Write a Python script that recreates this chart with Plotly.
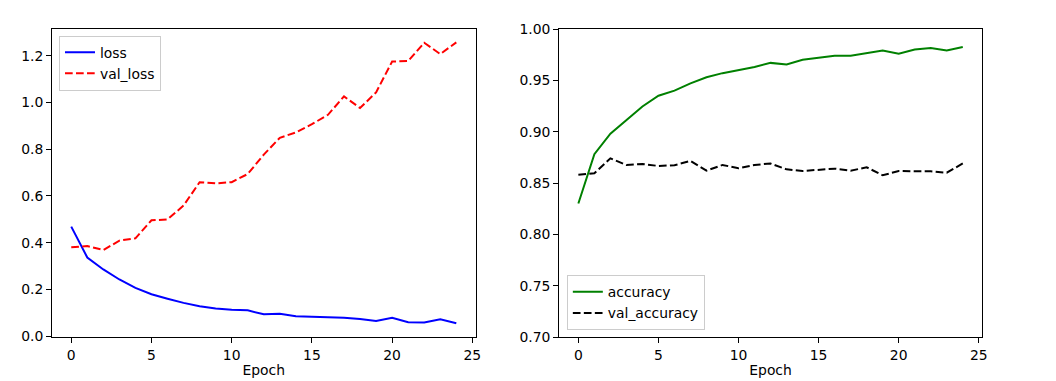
import plotly.graph_objects as go

epochs = list(range(25))
loss = [0.469, 0.337, 0.286, 0.243, 0.207, 0.180, 0.161, 0.143, 0.129, 0.119,
        0.114, 0.111, 0.094, 0.097, 0.086, 0.084, 0.079, 0.079, 0.074, 0.066,
        0.079, 0.060, 0.059, 0.073, 0.056]
val_loss = [0.381, 0.386, 0.369, 0.409, 0.419, 0.496, 0.500, 0.559, 0.659, 0.654,
            0.659, 0.694, 0.777, 0.849, 0.872, 0.907, 0.947, 1.026, 0.976, 1.043,
            1.175, 1.177, 1.255, 1.207, 1.257]
accuracy = [0.830, 0.878, 0.898, 0.9115, 0.9245, 0.935, 0.940, 0.947, 0.953, 0.957,
            0.960, 0.963, 0.967, 0.9655, 0.970, 0.972, 0.974, 0.974, 0.9766, 0.979,
            0.976, 0.980, 0.9815, 0.979, 0.9824]
val_accuracy = [0.858, 0.8594, 0.874, 0.8676, 0.8685, 0.8666, 0.8673, 0.8715, 0.862, 0.8676,
                0.8643, 0.8676, 0.869, 0.8633, 0.8617, 0.863, 0.864, 0.862, 0.8653, 0.8575,
                0.8617, 0.8614, 0.8614, 0.860, 0.869]
x_ticks = [0, 5, 10, 15, 20, 25]
loss_ticks = [0.0, 0.2, 0.4, 0.6, 0.8, 1.0, 1.2]
acc_ticks = [0.70, 0.75, 0.80, 0.85, 0.90, 0.95, 1.00]

FONT = "DejaVu Sans"
FS = 13.9
LW = 2.0
DASH = "7.7px,3.3px"

fig = go.Figure()
fig.add_trace(go.Scatter(x=epochs, y=loss, mode="lines", name="loss",
                         line=dict(color="blue", width=LW), xaxis="x", yaxis="y", legend="legend"))
fig.add_trace(go.Scatter(x=epochs, y=val_loss, mode="lines", name="val_loss",
                         line=dict(color="red", width=LW, dash=DASH), xaxis="x", yaxis="y", legend="legend"))
fig.add_trace(go.Scatter(x=epochs, y=accuracy, mode="lines", name="accuracy",
                         line=dict(color="green", width=LW), xaxis="x2", yaxis="y2", legend="legend2"))
fig.add_trace(go.Scatter(x=epochs, y=val_accuracy, mode="lines", name="val_accuracy",
                         line=dict(color="black", width=LW, dash=DASH), xaxis="x2", yaxis="y2", legend="legend2"))

axis_common = dict(showline=True, linecolor="black", linewidth=1.1, mirror=True,
                   ticks="outside", ticklen=4.9, tickcolor="black", tickwidth=1.1,
                   showgrid=False, zeroline=False, automargin=False,
                   tickfont=dict(family=FONT, size=FS, color="black"))

# page body has an 8px margin; figure coordinates are reference minus 8px
FW, FH = 1048, 373
ML, MR, MT, MB = 44, FW - 974.3, 21.3, FH - 328.7
W = FW - ML - MR
H = FH - MT - MB

fig.update_layout(
    width=FW, height=FH,
    margin=dict(l=ML, r=MR, t=MT, b=MB, autoexpand=False),
    paper_bgcolor="white", plot_bgcolor="white",
    font=dict(family=FONT, size=FS, color="black"),
    xaxis=dict(domain=[0, (467.7 - ML) / W], anchor="y", range=[-1.2, 25.2], tickvals=x_ticks,
               title=dict(text="Epoch", standoff=3, font=dict(family=FONT, size=FS)), **axis_common),
    yaxis=dict(domain=[0, 1], anchor="x", range=[-0.0029, 1.314], tickvals=loss_ticks,
               tickformat=".1f", **axis_common),
    xaxis2=dict(domain=[(551.3 - ML) / W, 1], anchor="y2", range=[-1.2, 25.2], tickvals=x_ticks,
                title=dict(text="Epoch", standoff=3, font=dict(family=FONT, size=FS)), **axis_common),
    yaxis2=dict(domain=[0, 1], anchor="x2", range=[0.70, 1.00], tickvals=acc_ticks,
                tickformat=".2f", **axis_common),
    legend=dict(x=(51 - ML) / W, y=(FH - MB - 28) / H, xanchor="left", yanchor="top",
                bgcolor="rgba(255,255,255,0.8)", bordercolor="#cccccc", borderwidth=1,
                font=dict(family=FONT, size=FS), tracegroupgap=0),
    legend2=dict(x=(559 - ML) / W, y=(FH - MB - 322) / H, xanchor="left", yanchor="bottom",
                 bgcolor="rgba(255,255,255,0.8)", bordercolor="#cccccc", borderwidth=1,
                 font=dict(family=FONT, size=FS), tracegroupgap=0),
    showlegend=True,
)

fig.write_html("out.html")
